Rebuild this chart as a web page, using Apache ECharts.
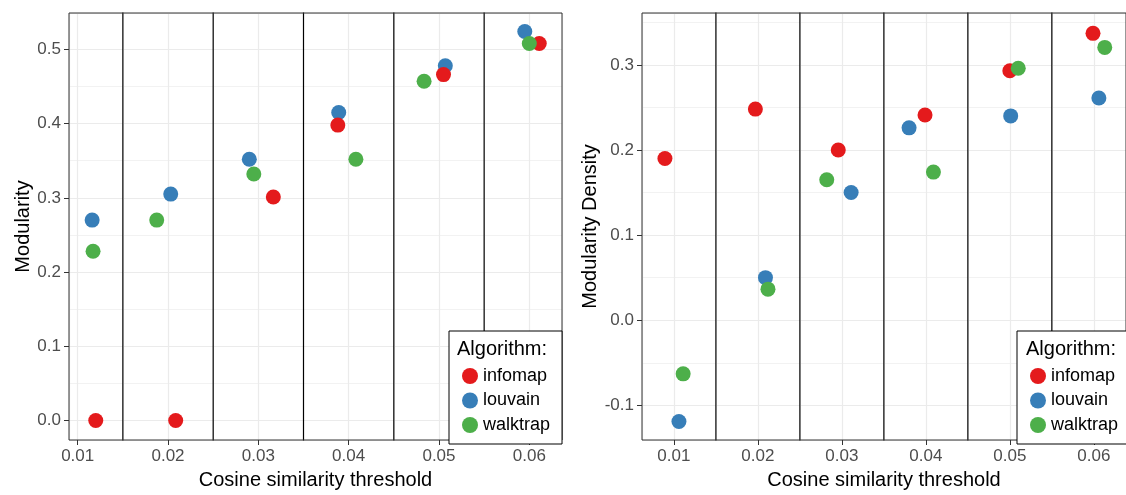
<!DOCTYPE html>
<html>
<head>
<meta charset="utf-8">
<script src="https://cdn.jsdelivr.net/npm/echarts@6/dist/echarts.min.js"></script>
<style>
  html, body { margin: 0; padding: 0; background: #fff; }
  #main { width: 1126px; height: 495px; }
</style>
</head>
<body>
<div id="main"></div>
<script>
// values (x positions are jittered around each threshold)
var algorithms = ['infomap', 'louvain', 'walktrap'];

var infomapModX = [0.0120, 0.02085, 0.03166, 0.0388, 0.0505, 0.0611];
var infomapModY = [0.0, 0.0, 0.301, 0.398, 0.466, 0.508];
var louvainModX = [0.0116, 0.0203, 0.0290, 0.0389, 0.0507, 0.0595];
var louvainModY = [0.270, 0.305, 0.352, 0.415, 0.478, 0.524];
var walktrapModX = [0.0117, 0.01875, 0.0295, 0.0408, 0.04835, 0.0600];
var walktrapModY = [0.228, 0.270, 0.332, 0.352, 0.457, 0.508];

var infomapDenX = [0.00893, 0.0197, 0.02957, 0.0399, 0.0500, 0.0599];
var infomapDenY = [0.190, 0.248, 0.200, 0.241, 0.293, 0.337];
var louvainDenX = [0.0106, 0.0209, 0.0311, 0.0380, 0.0501, 0.0606];
var louvainDenY = [-0.119, 0.050, 0.150, 0.226, 0.240, 0.261];
var walktrapDenX = [0.0111, 0.0212, 0.0282, 0.0409, 0.0510, 0.0613];
var walktrapDenY = [-0.063, 0.0365, 0.165, 0.174, 0.296, 0.3205];

var separators = [0.015, 0.025, 0.035, 0.045, 0.055];

var colors = { infomap: '#E41A1C', louvain: '#377EB8', walktrap: '#4DAF4A' };
var zOrder = { louvain: 2, infomap: 3, walktrap: 4 };

var myChart = echarts.init(document.getElementById('main'));
var font = 'Liberation Sans, Arial, sans-serif';

function pairs(xs, ys) {
    var out = [];
    for (var i = 0; i < xs.length; i++) out.push([xs[i], ys[i]]);
    return out;
}

function xAxisFor(idx, min, max) {
    return {
        gridIndex: idx, type: 'value', min: min, max: max,
        minInterval: 0.01, maxInterval: 0.01, splitNumber: 5,
        name: 'Cosine similarity threshold', nameLocation: 'middle', nameGap: 30,
        nameTextStyle: { fontFamily: font, fontSize: 20, color: '#000' },
        axisLine: { show: false, onZero: false },
        axisTick: { show: true, length: 5, lineStyle: { color: '#333' } },
        axisLabel: {
            fontFamily: font, fontSize: 17, color: '#4D4D4D', margin: 8,
            showMinLabel: false, showMaxLabel: false,
            formatter: function (v) { return v.toFixed(2); }
        },
        splitLine: { show: true, lineStyle: { color: '#EBEBEB', width: 1.2 } },
        minorTick: { show: false, splitNumber: 2 },
        minorSplitLine: { show: true, lineStyle: { color: '#F2F2F2', width: 1 } }
    };
}

function yAxisFor(idx, min, max, name, gap) {
    return {
        gridIndex: idx, type: 'value', min: min, max: max,
        minInterval: 0.1, maxInterval: 0.1, splitNumber: 5,
        name: name, nameLocation: 'middle', nameGap: gap,
        nameTextStyle: { fontFamily: font, fontSize: 20, color: '#000' },
        axisLine: { show: false, onZero: false },
        axisTick: { show: true, length: 5, lineStyle: { color: '#333' } },
        axisLabel: {
            fontFamily: font, fontSize: 17, color: '#4D4D4D', margin: 8,
            showMinLabel: false, showMaxLabel: false,
            formatter: function (v) { return v.toFixed(1); }
        },
        splitLine: { show: true, lineStyle: { color: '#EBEBEB', width: 1.2 } },
        minorTick: { show: false, splitNumber: 2 },
        minorSplitLine: { show: true, lineStyle: { color: '#F2F2F2', width: 1 } }
    };
}

function scatter(name, idx, data) {
    return {
        name: name, type: 'scatter', xAxisIndex: idx, yAxisIndex: idx,
        symbol: 'circle', symbolSize: 15, z: zOrder[name],
        itemStyle: { color: colors[name], opacity: 1 },
        data: data
    };
}

// vertical separators, one line series each, clipped to the grid
function separatorSeries(idx, v) {
    return {
        type: 'line', xAxisIndex: idx, yAxisIndex: idx,
        data: [[v, -10], [v, 10]], clip: true,
        showSymbol: false, symbol: 'none', silent: true, z: 1,
        lineStyle: { color: '#000', width: 1.2 }
    };
}

function legendFor(left) {
    return {
        data: algorithms, orient: 'vertical', left: left, top: 331,
        padding: [35, 12, 9, 13], itemGap: 4.5,
        itemWidth: 16, itemHeight: 16, icon: 'circle',
        backgroundColor: '#fff', borderColor: '#000', borderWidth: 1,
        textStyle: { fontFamily: font, fontSize: 18, color: '#000', lineHeight: 20 },
        selectedMode: false
    };
}

var series = [];
separators.forEach(function (v) {
    series.push(separatorSeries(0, v));
    series.push(separatorSeries(1, v));
});
series.push(
    scatter('infomap', 0, pairs(infomapModX, infomapModY)),
    scatter('louvain', 0, pairs(louvainModX, louvainModY)),
    scatter('walktrap', 0, pairs(walktrapModX, walktrapModY)),
    scatter('infomap', 1, pairs(infomapDenX, infomapDenY)),
    scatter('louvain', 1, pairs(louvainDenX, louvainDenY)),
    scatter('walktrap', 1, pairs(walktrapDenX, walktrapDenY))
);

var option = {
    animation: false,
    backgroundColor: '#fff',
    title: [
        { text: 'Algorithm:', left: 457, top: 339, padding: 0,
          textStyle: { fontFamily: font, fontSize: 20, fontWeight: 'normal', color: '#000' } },
        { text: 'Algorithm:', left: 1026, top: 339, padding: 0,
          textStyle: { fontFamily: font, fontSize: 20, fontWeight: 'normal', color: '#000' } }
    ],
    legend: [legendFor(449), legendFor(1017)],
    grid: [
        { left: 69, top: 13, width: 493, bottom: 51, show: true, borderColor: '#333', borderWidth: 1, z: 3 },
        { left: 642, top: 13, right: -2, bottom: 51, show: true, borderColor: '#333', borderWidth: 1, z: 3 }
    ],
    xAxis: [xAxisFor(0, 0.009037, 0.06362), xAxisFor(1, 0.0062, 0.06383)],
    yAxis: [yAxisFor(0, -0.0263, 0.549, 'Modularity', 34), yAxisFor(1, -0.1407, 0.3609, 'Modularity Density', 38)],
    series: series
};
myChart.setOption(option);
window.onresize = function () {
    myChart.resize()
}
</script>
</body>
</html>
